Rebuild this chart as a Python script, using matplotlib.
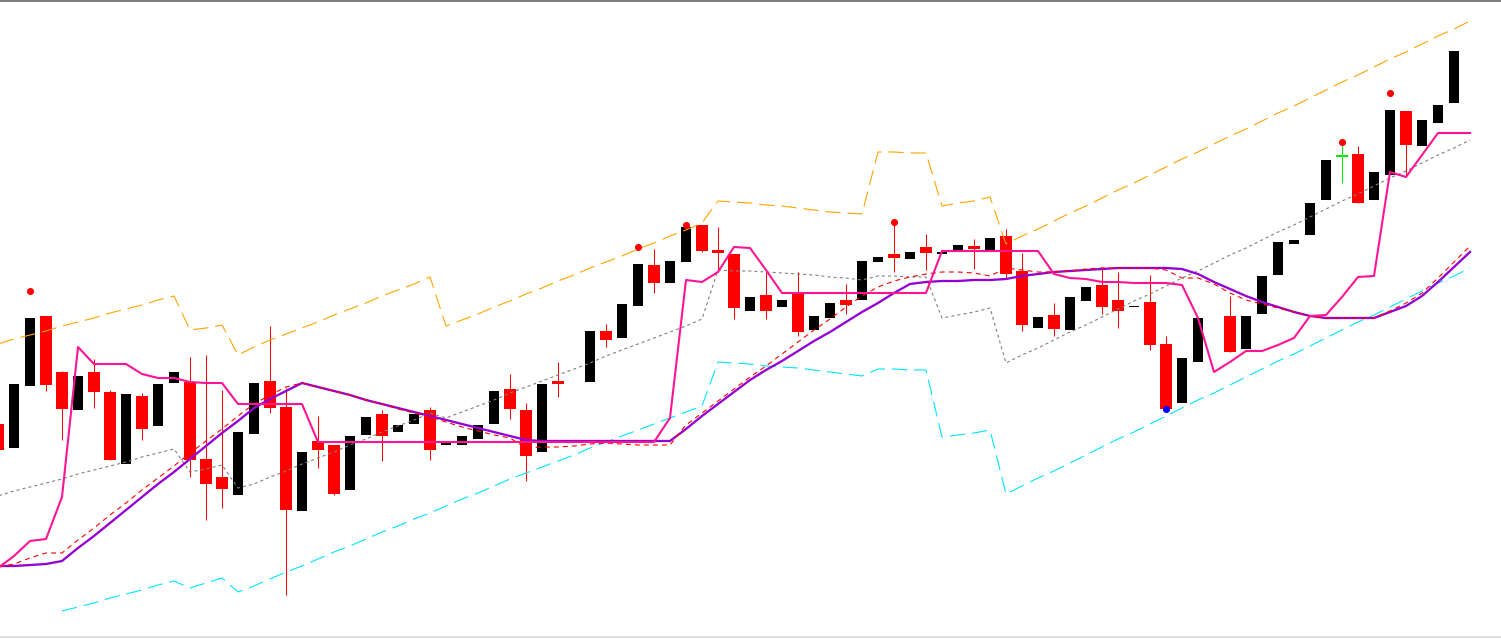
import numpy as np
import matplotlib
matplotlib.use('Agg')
import matplotlib.pyplot as plt

nan = np.nan

# ---- candle data (price units) ----
opens = [216, 192, 254, 324, 268, 230, 268, 248, 176, 244,
         214, 257, 258, 181, 163, 145, 206, 259, 233, 129,
         199, 195, 150, 205, 226, 208, 216, 230, 195, 195,
         201, 216, 251, 230, 188, 259, nan, 258, 309, 302,
         334, 375, 357, 378, 415, 390, 386, 329, 345, 333,
         347, 310, 322, 340, 340, 378, 386, 381, 393, 386,
         389, 394, 390, 404, 369, 312, 325, 310, 339, 355,
         340, 333, 338, 296, 237, 278, nan, 324, 291, 326,
         365, 396, 405, 440, 484, 486, 440, 465, 529, 494,
         517, 537]
closes = [190, 256, 322, 255, 231, 264, 248, 180, 246, 211,
          256, 268, 180, 156, 151, 208, 257, 232, 130, 188,
          190, 146, 204, 223, 204, 215, 226, 190, 198, 204,
          215, 249, 231, 184, 256, 256, nan, 309, 300, 336,
          376, 357, 379, 413, 389, 387, 332, 343, 329, 340,
          308, 324, 337, 335, 379, 383, 382, 388, 387, 388,
          395, 391, 402, 366, 315, 323, 311, 343, 353, 333,
          329, 334, 295, 231, 282, 322, nan, 288, 324, 364,
          398, 400, 437, 480, 484, 437, 468, 530, 495, 520,
          535, 589]
highs = [216, 256, 322, 324, 269, 264, 281, 250, 246, 247,
         256, 268, 283, 285, 250, 208, 257, 314, 252, 188,
         224, 195, 204, 223, 230, 215, 226, 233, 198, 204,
         215, 249, 266, 237, 256, 278, nan, 309, 316, 336,
         376, 391, 379, 413, 415, 413, 386, 343, 368, 340,
         368, 324, 337, 356, 379, 383, 417, 388, 406, 388,
         395, 401, 402, 411, 387, 323, 337, 343, 353, 373,
         368, 334, 365, 304, 282, 322, nan, 344, 324, 364,
         398, 400, 437, 480, 495, 494, 468, 530, 529, 520,
         535, 589]
lows = [190, 192, 254, 249, 200, 230, 232, 180, 176, 200,
        214, 257, 163, 120, 132, 145, 206, 227, 45, 129,
        172, 145, 150, 205, 179, 208, 216, 180, 195, 195,
        201, 216, 221, 159, 188, 243, nan, 258, 293, 302,
        334, 347, 357, 378, 388, 368, 321, 329, 321, 333,
        304, 310, 322, 326, 340, 378, 368, 381, 370, 386,
        389, 371, 390, 361, 309, 312, 304, 310, 339, 326,
        312, 333, 290, 231, 237, 278, nan, 288, 291, 326,
        365, 396, 405, 440, 457, 437, 440, 465, 465, 494,
        517, 537]

# ---- indicator lines (one value per bar, last one projected one bar ahead) ----
upper_band = [296, 301, 305, 309, 314, 318, 322, 327, 331, 335,
              340, 344, 310, 312, 315, 285, 293, 300, 306, 312,
              318, 325, 331, 337, 344, 350, 356, 363, 314, 320,
              326, 333, 339, 346, 352, 359, 365, 372, 378, 384,
              391, 397, 404, 410, 417, 439, 438, 437, 435, 434,
              432, 430, 428, 427, 426, 488, 488, 487, 487, 434,
              437, 439, 443, 396, 404, 411, 419, 427, 434, 442,
              450, 457, 465, 473, 481, 488, 496, 504, 511, 519,
              527, 534, 542, 550, 558, 565, 573, 581, 588, 596,
              604, 611, 619]
lower_band = [nan, nan, nan, nan, 29, 33, 37, 42, 46, 50,
              55, 59, 52, 57, 62, 48, 54, 61, 68, 74,
              81, 88, 94, 101, 108, 114, 121, 127, 134, 141,
              147, 154, 161, 167, 173, 179, 185, 192, 198, 204,
              210, 216, 222, 228, 234, 278, 277, 276, 274, 273,
              272, 270, 268, 266, 264, 271, 271, 270, 270, 203,
              205, 207, 210, 146, 154, 162, 169, 177, 185, 193,
              201, 208, 216, 224, 232, 240, 247, 255, 263, 271,
              279, 286, 294, 302, 310, 318, 325, 333, 341, 349,
              357, 364, 372]
mid_band = [144, 149, 153, 157, 161, 166, 170, 174, 178, 183,
            187, 191, 168, 171, 175, 152, 156, 163, 169, 176,
            182, 188, 195, 201, 208, 214, 220, 227, 222, 228,
            234, 240, 247, 253, 259, 265, 271, 277, 284, 290,
            296, 302, 308, 314, 321, 370, 369, 369, 368, 367,
            366, 365, 363, 362, 360, 364, 364, 363, 363, 322,
            325, 328, 332, 277, 285, 292, 300, 308, 315, 323,
            331, 339, 346, 354, 362, 369, 377, 385, 392, 400,
            408, 415, 423, 431, 439, 446, 454, 462, 469, 477,
            485, 492, 500]
stop_line = [72, 84, 99, 101, 143, 293, 276, 276, 276, 266,
             262, 262, 258, 257, 257, 236, 236, 236, 236, 236,
             198, 198, 198, 198, 198, 198, 198, 198, 198, 198,
             198, 198, 198, 198, 198, 198, 198, 198, 198, 198,
             198, 198, 222, 360, 358, 368, 393, 392, 370, 347,
             347, 347, 347, 347, 347, 347, 347, 347, 347, 389,
             389, 389, 389, 389, 389, 389, 366, 362, 361, 358,
             358, 357, 357, 357, 355, 322, 268, 278, 289, 289,
             295, 302, 324, 325, 343, 363, 364, 468, 463, 485,
             507, 507, 507]
slow_ma = [74, 74, 75, 76, 79, 92, 104, 117, 130, 143,
           156, 168, 181, 194, 207, 219, 232, 241, 249, 257,
           253, 249, 245, 240, 236, 232, 228, 224, 220, 216,
           212, 208, 204, 200, 199, 199, 199, 199, 199, 199,
           199, 199, 199, 211, 224, 236, 248, 260, 270, 279,
           289, 299, 308, 318, 328, 337, 347, 356, 358, 359,
           359, 360, 360, 361, 364, 366, 368, 369, 370, 371,
           372, 372, 372, 372, 371, 366, 358, 351, 344, 338,
           333, 328, 324, 322, 322, 322, 322, 328, 334, 344,
           358, 373, 388]
fast_ma = [73, 76, 82, 87, 87, 100, 112, 125, 137, 150,
           162, 174, 187, 199, 211, 224, 236, 245, 253, 257,
           253, 249, 245, 240, 236, 231, 227, 223, 218, 213,
           209, 205, 202, 192, 193, 193, 194, 196, 197, 196,
           195, 195, 195, 215, 227, 239, 251, 263, 274, 286,
           298, 310, 321, 333, 344, 353, 359, 363, 366, 368,
           368, 367, 364, 372, 370, 368, 368, 369, 371, 372,
           372, 372, 372, 370, 362, 362, 356, 347, 340, 336,
           332, 328, 324, 322, 322, 322, 322, 329, 337, 347,
           362, 378, 394]

fractal_up_idx = [2, 40, 43, 56, 84, 87]
fractal_up_val = [349, 393, 415, 418, 498, 547]
fractal_dn_idx = [73]
fractal_dn_val = [231]

plt.rcParams['lines.scale_dashes'] = False

fig = plt.figure(figsize=(15.01, 6.39), dpi=100)
fig.patch.set_facecolor('white')
ax = fig.add_axes([0, 0, 1, 1])
ax.set_xlim(0.125, 93.9375)
ax.set_ylim(1, 640)
ax.axis('off')

px = 1.0 / 16.0  # one pixel in bar units

o = np.array(opens, float)
c = np.array(closes, float)
h = np.array(highs, float)
l = np.array(lows, float)
idx = np.arange(len(o))

for i in idx:
    if np.isnan(o[i]):
        continue
    if c[i] > o[i]:
        col, w = 'black', 10 * px
    elif c[i] < o[i]:
        col, w = '#ff0000', 12 * px
    else:
        col, w = '#00ee00', 12 * px
    # wick
    if col != 'black':
        ax.vlines(i - 0.5 * px, l[i], h[i], colors=col, lw=0.75, zorder=2)
    lo = min(o[i], c[i])
    hgt = abs(c[i] - o[i])
    if hgt < 1:
        ax.bar(i, 1.5, bottom=lo - 0.75, width=w, color=col, lw=0, zorder=2)
    else:
        ax.bar(i, hgt, bottom=lo, width=w, color=col, lw=0, zorder=2,
               antialiased=False)

lx = np.arange(len(upper_band))
ax.plot(lx, upper_band, color='#ffa500', lw=0.8, dashes=(11, 5), zorder=3)
ax.plot(lx, lower_band, color='#00e5ff', lw=0.8, dashes=(11, 5), zorder=3)
ax.plot(lx, mid_band, color='#808080', lw=0.8, dashes=(2.2, 2.2), zorder=3)
ax.plot(lx, slow_ma, color='#9400d3', lw=1.65, zorder=4, solid_joinstyle='miter')
ax.plot(lx, fast_ma, color='#ff0000', lw=0.8, dashes=(3.6, 2.9), zorder=4)
ax.plot(lx, stop_line, color='#ff1493', lw=1.5, zorder=4)

ax.scatter(fractal_up_idx, fractal_up_val, s=26, color='#ff0000', zorder=5, lw=0)
ax.scatter(fractal_dn_idx, fractal_dn_val, s=26, color='#0000ff', zorder=5, lw=0)

# chart frame lines
ax.axhspan(638, 640, color='#808080', lw=0, zorder=6)
ax.axhspan(2, 4, color='#e0e0e0', lw=0, zorder=6)

fig.savefig('out.png', dpi=100, facecolor='white')
